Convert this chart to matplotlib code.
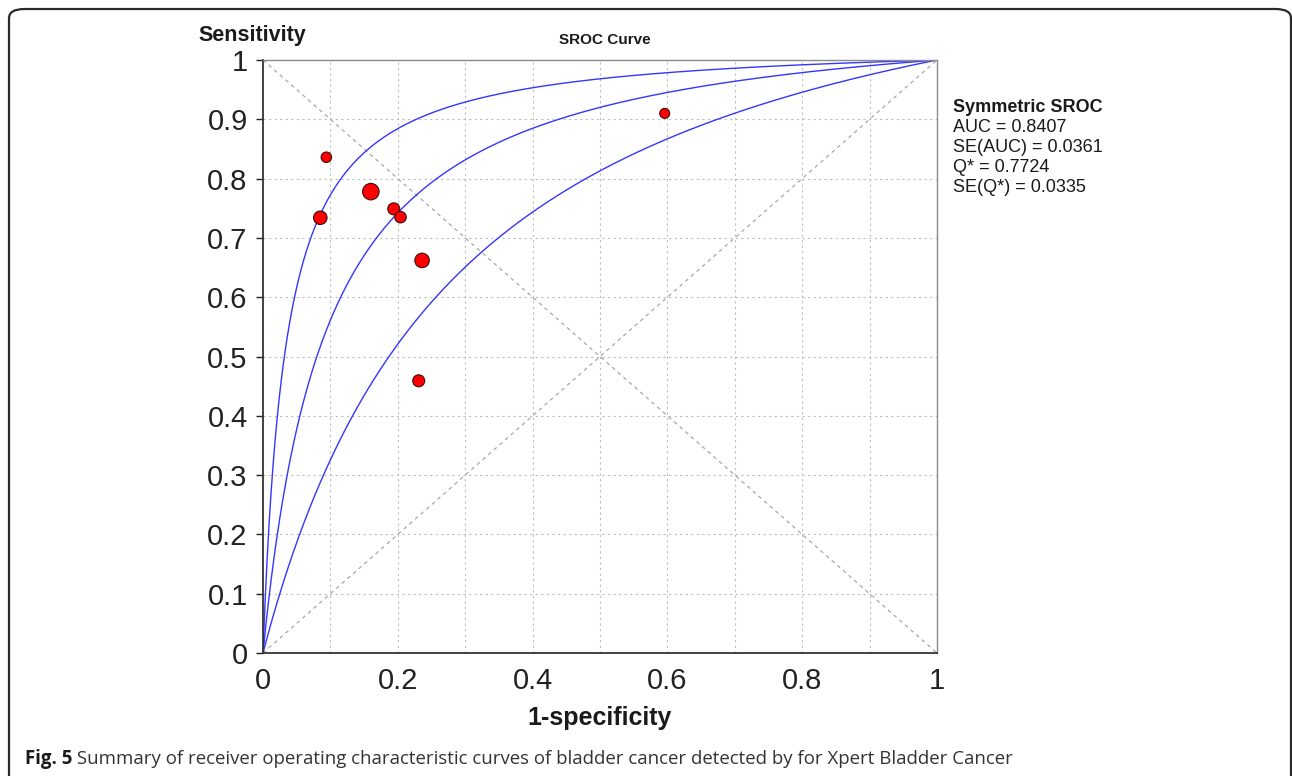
import numpy as np
import matplotlib
matplotlib.use("Agg")
import matplotlib.pyplot as plt
from matplotlib.patches import FancyBboxPatch

# ---- data ----
fpr = [0.094, 0.160, 0.085, 0.194, 0.204, 0.236, 0.231, 0.596]
sens = [0.836, 0.778, 0.734, 0.749, 0.735, 0.662, 0.459, 0.910]
point_diam_px = [10.5, 16.5, 13.5, 12, 11.5, 14.5, 12, 10]
# SROC intercepts (logit(TPR) - logit(FPR)) : lower, symmetric SROC, upper
curve_a = [1.47, 2.444, 3.42]
xticks = [0, 0.2, 0.4, 0.6, 0.8, 1]
xtick_labels = ["0", "0.2", "0.4", "0.6", "0.8", "1"]
yticks = [0, 0.1, 0.2, 0.3, 0.4, 0.5, 0.6, 0.7, 0.8, 0.9, 1]
ytick_labels = ["0", "0.1", "0.2", "0.3", "0.4", "0.5", "0.6", "0.7", "0.8", "0.9", "1"]
stats_title = "Symmetric SROC"
stats_lines = ["AUC = 0.8407", "SE(AUC) = 0.0361", "Q* = 0.7724", "SE(Q*) = 0.0335"]
caption_bold = "Fig. 5"
caption_rest = " Summary of receiver operating characteristic curves of bladder cancer detected by for Xpert Bladder Cancer"

W, H = 1292, 776
DPI = 100
fig = plt.figure(figsize=(W / DPI, H / DPI), dpi=DPI)
fig.patch.set_facecolor("white")

def fx(px):
    return px / W

def fy(py):
    return 1 - py / H

ax = fig.add_axes([fx(263), fy(653), fx(937) - fx(263), fy(60) - fy(653)])
ax.set_xlim(0, 1)
ax.set_ylim(0, 1)

# grid every 0.1
for g in np.arange(1, 10) / 10:
    ax.axvline(g, color="#bdbdbd", lw=0.8, ls=(0, (2, 3)), zorder=0)
    ax.axhline(g, color="#bdbdbd", lw=0.8, ls=(0, (2, 3)), zorder=0)

# diagonals
ax.plot([0, 1], [0, 1], color="#a8a8a8", lw=0.9, ls=(0, (3, 3)), zorder=1)
ax.plot([0, 1], [1, 0], color="#a8a8a8", lw=0.9, ls=(0, (3, 3)), zorder=1)

# SROC curves
xs = np.linspace(0, 1, 1001)
for a in curve_a:
    with np.errstate(divide="ignore", invalid="ignore"):
        ys = xs / (xs + np.exp(-a) * (1 - xs))
    ys[0] = 0.0
    ax.plot(xs, ys, color="#3535ff", lw=1.0, zorder=2)

# study points
sizes = [(d * 72 / DPI) ** 2 for d in point_diam_px]
ax.scatter(fpr, sens, s=sizes, c="#ff0000", edgecolors="#3a1010", linewidths=0.8, zorder=3)

ax.set_xticks(xticks)
ax.set_xticklabels(xtick_labels, fontsize=21, family="Liberation Sans")
ax.set_yticks(yticks)
ax.set_yticklabels(ytick_labels, fontsize=21, family="Liberation Sans")
ax.tick_params(axis="x", length=0, pad=10, colors="#222222")
ax.tick_params(axis="y", length=5, width=1.0, pad=6, colors="#222222", direction="out")
for side in ["left", "bottom"]:
    ax.spines[side].set_color("#333333")
    ax.spines[side].set_linewidth(1.3)
for side in ["top", "right"]:
    ax.spines[side].set_color("#8a8a8a")
    ax.spines[side].set_linewidth(1.0)

# texts
fig.text(fx(198), fy(35), "Sensitivity", fontsize=15.5, fontweight="bold",
         family="Liberation Sans", ha="left", va="center", color="#1a1a1a")
fig.text(fx(605), fy(40), "SROC Curve", fontsize=11, fontweight="bold",
         family="Liberation Sans", ha="center", va="center", color="#1a1a1a")
fig.text(fx(600), fy(718), "1-specificity", fontsize=18, fontweight="bold",
         family="Liberation Sans", ha="center", va="center", color="#1a1a1a")

fig.text(fx(953), fy(108), stats_title, fontsize=13, fontweight="bold",
         family="Liberation Sans", ha="left", va="center", color="#1a1a1a")
for i, line in enumerate(stats_lines):
    fig.text(fx(953), fy(128 + 19.8 * i), line, fontsize=13,
             family="Liberation Sans", ha="left", va="center", color="#1a1a1a")

# caption
t1 = fig.text(fx(25), fy(759), caption_bold, fontsize=13.4, fontweight="bold",
              family="Open Sans", ha="left", va="center", color="#1a1a1a")
fig.canvas.draw()
bb = t1.get_window_extent(renderer=fig.canvas.get_renderer())
fig.text(bb.x1 / W, fy(759), caption_rest, fontsize=13.4,
         family="Open Sans", ha="left", va="center", color="#333333")

# rounded frame
frame = FancyBboxPatch((fx(9), -0.05), fx(1291) - fx(9), fy(9) + 0.05,
                       boxstyle="round,pad=0,rounding_size=0.012",
                       transform=fig.transFigure, fill=False,
                       edgecolor="#2a2a2a", linewidth=1.6, clip_on=False)
fig.patches.append(frame)

fig.savefig("out.png", dpi=DPI, facecolor="white")
